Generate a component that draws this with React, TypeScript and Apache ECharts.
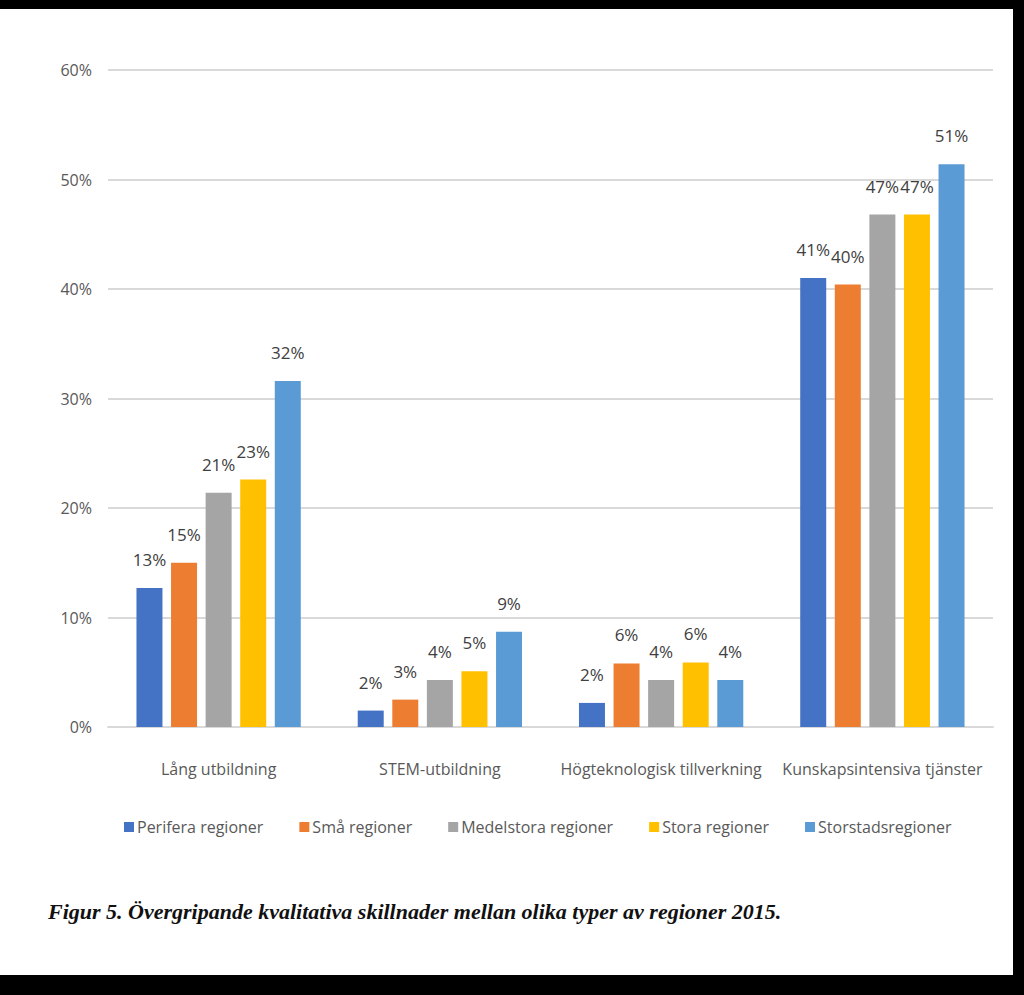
import React, { useEffect, useRef } from "react";
import * as echarts from "echarts";

const categories = ["Lång utbildning", "STEM-utbildning", "Högteknologisk tillverkning", "Kunskapsintensiva tjänster"];
const seriesNames = ["Perifera regioner", "Små regioner", "Medelstora regioner", "Stora regioner", "Storstadsregioner"];
const perifera = [12.7, 1.5, 2.2, 41.0];
const sma = [15.0, 2.5, 5.8, 40.4];
const medelstora = [21.4, 4.3, 4.3, 46.8];
const stora = [22.6, 5.1, 5.9, 46.8];
const storstad = [31.6, 8.7, 4.3, 51.4];
const colors = ["#4472C4", "#ED7D31", "#A5A5A5", "#FFC000", "#5B9BD5"];
const yTicks = [0, 10, 20, 30, 40, 50, 60];
const caption = "Figur 5. Övergripande kvalitativa skillnader mellan olika typer av regioner 2015.";

const FONT = "'Open Sans', sans-serif";

export default function App() {
  const ref = useRef<HTMLDivElement>(null);
  useEffect(() => {
    if (!ref.current) return;
    const chart = echarts.init(ref.current, null, { renderer: "svg" });
    const data = [perifera, sma, medelstora, stora, storstad];
    chart.setOption({
      animation: false,
      textStyle: { fontFamily: FONT },
      grid: { left: 108, right: 31, top: 70, bottom: 268 },
      legend: {
        data: seriesNames,
        bottom: 155,
        left: 119,
        itemWidth: 10,
        itemHeight: 10,
        itemGap: 36,
        icon: "rect",
        textStyle: { fontFamily: FONT, fontSize: 16, color: "#595959", padding: [0, 0, 0, -2] },
      },
      xAxis: {
        type: "category",
        data: categories,
        axisTick: { show: false },
        axisLine: { lineStyle: { color: "#d9d9d9", width: 2 } },
        axisLabel: { interval: 0, fontFamily: FONT, fontSize: 16, color: "#595959", margin: 34 },
      },
      yAxis: {
        type: "value",
        min: yTicks[0],
        max: yTicks[yTicks.length - 1],
        interval: 10,
        axisLabel: { formatter: "{value}%", fontFamily: FONT, fontSize: 16, color: "#595959", margin: 16 },
        splitLine: { lineStyle: { color: "#d9d9d9", width: 2 } },
        axisLine: { show: false },
        axisTick: { show: false },
      },
      series: data.map((d, i) => ({
        name: seriesNames[i],
        type: "bar",
        data: d,
        barWidth: 26,
        barGap: "33%",
        itemStyle: { color: colors[i] },
        label: {
          show: true,
          position: "top",
          distance: 20,
          fontFamily: FONT,
          fontSize: 17,
          color: "#404040",
          formatter: (p: any) => Math.round(p.value) + "%",
        },
      })),
      graphic: [
        {
          type: "text",
          left: 48,
          top: 900,
          style: {
            text: caption,
            font: "italic bold 22px 'Liberation Serif', 'DejaVu Serif', serif",
            fill: "#111",
          },
        },
      ],
    });
    return () => chart.dispose();
  }, []);
  return (
    <div style={{ position: "fixed", left: 0, top: 0, width: 1024, height: 995, background: "#000" }}>
      <div style={{ position: "absolute", left: 0, top: 9, width: 1013, height: 966, background: "#fff" }} />
      <div ref={ref} style={{ position: "absolute", left: 0, top: 0, width: 1024, height: 995 }} />
    </div>
  );
}
